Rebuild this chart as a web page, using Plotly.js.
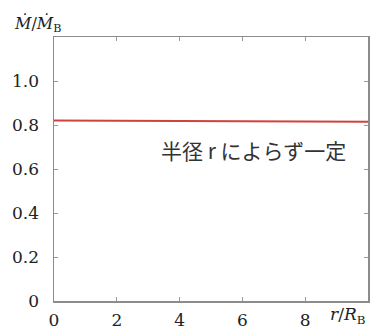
<!DOCTYPE html>
<html><head><meta charset="utf-8">
<script src="https://cdn.plot.ly/plotly-3.0.1.min.js"></script>
<style>html,body{margin:0;padding:0;background:#fff}</style>
</head><body><div id="chart" style="width:379px;height:334px"></div>
<script>
const rValues = [0, 10];
const mdotValues = [0.82, 0.815];
const xTickVals = [0, 2, 4, 6, 8];
const xTickText = ['0', '2', '4', '6', '8'];
const yTickVals = [0, 0.2, 0.4, 0.6, 0.8, 1.0];
const yTickText = ['0', '0.2', '0.4', '0.6', '0.8', '1.0'];
const noteText = '半径 r によらず一定';

const serif = 'DejaVu Serif, Liberation Serif, serif';
const axisCommon = {
  showline: true, mirror: 'ticks', linecolor: '#8c8c8c', linewidth: 1.5,
  ticks: 'inside', ticklen: 4, tickcolor: '#9a9a9a', tickwidth: 1,
  showgrid: false, zeroline: false,
  tickfont: {family: serif, size: 17, color: '#222'}
};
const layout = {
  width: 379, height: 334,
  margin: {l: 54, r: 11, t: 37, b: 33},
  paper_bgcolor: '#fff', plot_bgcolor: '#fff',
  showlegend: false,
  xaxis: Object.assign({}, axisCommon, {range: [0, 10], tickvals: xTickVals, ticktext: xTickText, ticklabelstandoff: 3}),
  yaxis: Object.assign({}, axisCommon, {range: [0, 1.2], tickvals: yTickVals, ticktext: yTickText, ticklabelstandoff: 10}),
  annotations: [
    {xref: 'paper', yref: 'paper', x: 0.935, y: 0.572, xanchor: 'right', yanchor: 'middle', showarrow: false,
     text: noteText, font: {family: 'Noto Sans CJK JP, sans-serif', size: 21, color: '#333'}},
    {xref: 'paper', yref: 'paper', x: -0.135, y: 1.05, xanchor: 'left', yanchor: 'middle', showarrow: false,
     text: '<i>Ṁ</i>/<i>Ṁ</i><sub>B</sub>', font: {family: serif, size: 16, color: '#222'}},
    {xref: 'paper', yref: 'paper', x: 1.0, y: -0.055, xanchor: 'right', yanchor: 'middle', showarrow: false,
     text: '<i>r</i>/<i>R</i><sub>B</sub>', font: {family: serif, size: 17, color: '#222'}}
  ]
};
Plotly.newPlot('chart', [{
  x: rValues, y: mdotValues, type: 'scatter', mode: 'lines',
  line: {color: '#d0423c', width: 2}
}], layout, {staticPlot: true, displayModeBar: false});
</script></body></html>
